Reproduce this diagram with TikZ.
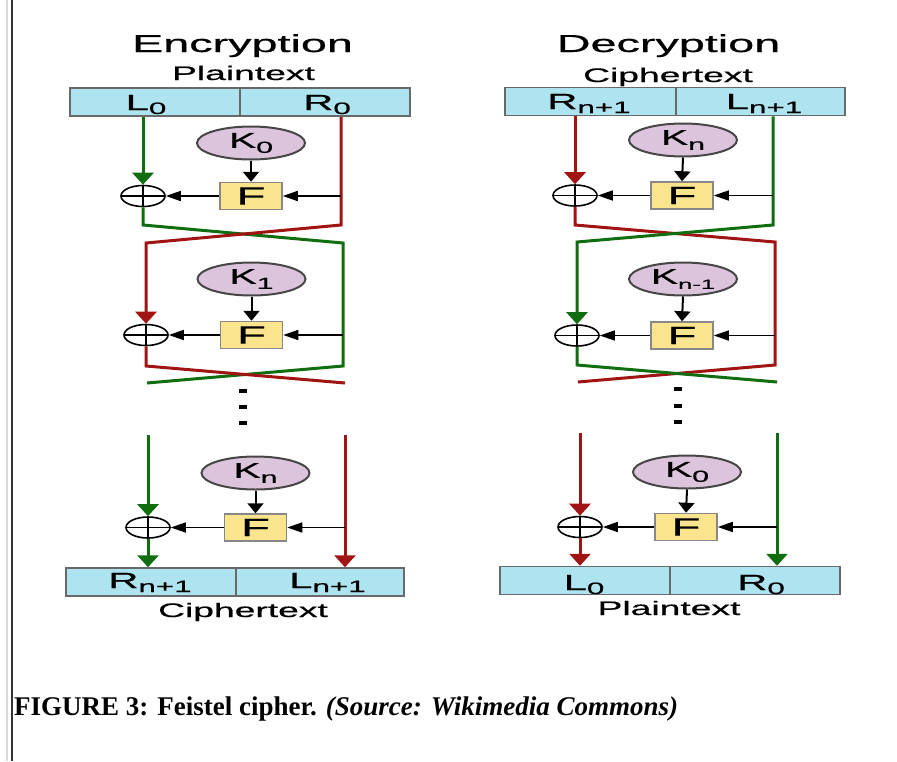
\documentclass[tikz,border=0pt]{standalone}
\usepackage{fontspec}
\setmainfont{Liberation Sans}[FakeBold=0.5]
\newfontfamily\capfont{Liberation Serif}
\usepackage{graphicx}
\usetikzlibrary{shapes.geometric,arrows.meta,calc}
\definecolor{boxfill}{RGB}{174,227,240}
\definecolor{boxborder}{RGB}{105,105,105}
\definecolor{keyfill}{RGB}{221,196,221}
\definecolor{keyborder}{RGB}{70,70,70}
\definecolor{ffill}{RGB}{250,228,142}
\definecolor{fborder}{RGB}{135,135,135}
\definecolor{grn}{RGB}{16,110,16}
\definecolor{rd}{RGB}{160,20,20}
\newcommand\sx[1]{\scalebox{1.9}[1]{#1}}
\newcommand\fs[1]{\fontsize{#1}{#1}\selectfont}
\newcommand\lbl[2]{\sx{\fs{22}#1\raisebox{-4pt}{\fs{16.5}#2}}}
\newcommand\klbl[2]{\sx{\fs{21.5}K\raisebox{-5pt}{\fs{#1}#2}}}
\begin{document}
\begin{tikzpicture}[x=1pt,y=-1pt,
  half/.style={draw=boxborder, fill=boxfill, line width=1.5pt, minimum height=28pt, inner sep=0pt},
  key/.style={ellipse, draw=keyborder, fill=keyfill, line width=2pt, minimum width=108pt, minimum height=33pt, inner sep=0pt},
  fbox/.style={draw=fborder, fill=ffill, line width=1.5pt, minimum width=62pt, minimum height=27pt, inner sep=0pt},
  xor/.style={ellipse, draw=black, line width=1.6pt, minimum width=44pt, minimum height=21pt, inner sep=0pt,
    path picture={\draw[line width=1.6pt] (path picture bounding box.north) -- (path picture bounding box.south)
      (path picture bounding box.west) -- (path picture bounding box.east);}},
  gline/.style={draw=grn, line width=3pt},
  rline/.style={draw=rd, line width=3pt},
  carrow/.style={-{Triangle[width=21pt,length=12pt]}},
  hbarrow/.style={draw=black, line width=1.5pt, -{Triangle[width=10pt,length=15pt]}},
  vbarrow/.style={draw=black, line width=2pt, -{Triangle[width=16pt,length=10pt]}},
  ttl/.style={anchor=base, inner sep=0pt},
  dotbox/.style={fill=black, minimum width=8pt, minimum height=4pt, inner sep=0pt}]
\useasboundingbox (0,0) rectangle (897,761);
% margin lines
\draw[line width=2pt, black!15] (7,0) -- (7,761);
\draw[line width=2pt, black!80] (12,0) -- (12,761);

% ================= ENCRYPTION =================
\node[ttl] (tenc) at (242.5,52) {\sx{\fs{24.6}Encryption}};
\node[ttl] (tencp) at (243.5,80) {\sx{\fs{19.6}Plaintext}};
\node[half, minimum width=170pt] (eTL) at (155,102) {};
\node[half, minimum width=170pt] (eTR) at (325,102) {};
\node[ttl] (eTLt) at (146,110) {\lbl{L}{0}};
\node[ttl] (eTRt) at (327,110) {\lbl{R}{0}};

\node[key] (eK0) at (251,143) {\klbl{16}{0}};
\node[fbox] (eF0) at (251,196) {\sx{\fs{25}F}};
\node[xor] (eX0) at (143,196) {};

\coordinate (er1) at (341,225);
\coordinate (er2) at (146,243);
\coordinate (eg1) at (143,225);
\coordinate (eg2) at (343,243);
\coordinate (eg3) at (343,366);
\coordinate (eg4) at (147,383);
\coordinate (er3) at (146,366);
\coordinate (er4) at (345,383);
\coordinate (eg5) at (148,435);
\coordinate (er5) at (345,435);

\node[key] (eK1) at (251.5,279) {\klbl{16}{1}};
\node[fbox] (eF1) at (251.5,335) {\sx{\fs{25}F}};
\node[xor] (eX1) at (146,335) {};

\node[dotbox] (ed1) at (243,391) {};
\node[dotbox] (ed2) at (243,407) {};
\node[dotbox] (ed3) at (243,423) {};

\node[key] (eK2) at (255.5,473) {\klbl{16}{n}};
\node[fbox] (eF2) at (255.5,527.5) {\sx{\fs{25}F}};
\node[xor] (eX2) at (148,527.5) {};

\node[half, minimum width=170pt] (eBL) at (151,582) {};
\node[half, minimum width=168pt] (eBR) at (320,582) {};
\node[ttl] (eBLt) at (150,588) {\lbl{R}{n+1}};
\node[ttl] (eBRt) at (327.5,588) {\lbl{L}{n+1}};
\node[ttl] (tencc) at (243,617) {\sx{\fs{19.6}Ciphertext}};

% encryption connectors
\draw[gline,carrow] (eTL.south -| eX0) -- (eX0.north);
\draw[gline] (eX0.south) -- (eg1) -- (eg2) -- (eg3) -- (eg4);
\draw[rline,carrow] (eTR.south -| er1) -- (er1) -- (er2) -- (eX1.north);
\draw[rline] (eX1.south) -- (er3) -- (er4);
\draw[hbarrow] (er1 |- eF0) -- (eF0.east);
\draw[hbarrow] (eF0.west) -- (eX0.east);
\draw[vbarrow] (eK0.south) -- (eF0.north);
\draw[hbarrow] (eg3 |- eF1) -- (eF1.east);
\draw[hbarrow] (eF1.west) -- (eX1.east);
\draw[vbarrow] (eK1.south) -- (eF1.north);
\draw[gline,carrow] (eg5) -- (eX2.north);
\draw[gline,carrow] (eX2.south) -- (eX2.south |- eBL.north);
\draw[rline,carrow] (er5) -- (er5 |- eBR.north);
\draw[hbarrow] (er5 |- eF2) -- (eF2.east);
\draw[hbarrow] (eF2.west) -- (eX2.east);
\draw[vbarrow] (eK2.south) -- (eF2.north);

% ================= DECRYPTION =================
\node[ttl] (tdec) at (668.5,52) {\sx{\fs{24.6}Decryption}};
\node[ttl] (tdecc) at (668,82) {\sx{\fs{19.6}Ciphertext}};
\node[half, minimum width=171pt] (dTL) at (590.5,101.5) {};
\node[half, minimum width=169pt] (dTR) at (760.5,101.5) {};
\node[ttl] (dTLt) at (589,109) {\lbl{R}{n+1}};
\node[ttl] (dTRt) at (764,109) {\lbl{L}{n+1}};

\node[key] (dK0) at (683,140) {\klbl{16}{n}};
\node[fbox] (dF0) at (682,195.5) {\sx{\fs{25}F}};
\node[xor] (dX0) at (575,195.5) {};

\coordinate (dr1) at (575,225);
\coordinate (dr2) at (775,242);
\coordinate (dg1) at (773,225);
\coordinate (dg2) at (577,242);
\coordinate (dr3) at (775,365);
\coordinate (dr4) at (578,382);
\coordinate (dg3) at (577,365);
\coordinate (dg4) at (777,382);
\coordinate (dr5) at (580,433);
\coordinate (dg5) at (777,433);

\node[key] (dK1) at (683,279) {\klbl{13.5}{n-1}};
\node[fbox] (dF1) at (682,335.5) {\sx{\fs{25}F}};
\node[xor] (dX1) at (577,335.5) {};

\node[dotbox] (dd1) at (678,389) {};
\node[dotbox] (dd2) at (678,406) {};
\node[dotbox] (dd3) at (678,422) {};

\node[key] (dK2) at (687,472) {\klbl{16}{0}};
\node[fbox] (dF2) at (686,527) {\sx{\fs{25}F}};
\node[xor] (dX2) at (580,527) {};

\node[half, minimum width=170pt] (dBL) at (585,580.5) {};
\node[half, minimum width=170pt] (dBR) at (755,580.5) {};
\node[ttl] (dBLt) at (584,590) {\lbl{L}{0}};
\node[ttl] (dBRt) at (761,590) {\lbl{R}{0}};
\node[ttl] (tdecp) at (669,615) {\sx{\fs{19.6}Plaintext}};

% decryption connectors
\draw[rline,carrow] (dTL.south -| dX0) -- (dX0.north);
\draw[rline] (dX0.south) -- (dr1) -- (dr2) -- (dr3) -- (dr4);
\draw[gline,carrow] (dTR.south -| dg1) -- (dg1) -- (dg2) -- (dX1.north);
\draw[gline] (dX1.south) -- (dg3) -- (dg4);
\draw[hbarrow] (dg1 |- dF0) -- (dF0.east);
\draw[hbarrow] (dF0.west) -- (dX0.east);
\draw[vbarrow] (dK0.south) -- (dF0.north);
\draw[hbarrow] (dr3 |- dF1) -- (dF1.east);
\draw[hbarrow] (dF1.west) -- (dX1.east);
\draw[vbarrow] (dK1.south) -- (dF1.north);
\draw[rline,carrow] (dr5) -- (dX2.north);
\draw[rline,carrow] (dX2.south) -- (dX2.south |- dBL.north);
\draw[gline,carrow] (dg5) -- (dg5 |- dBR.north);
\draw[hbarrow] (dg5 |- dF2) -- (dF2.east);
\draw[hbarrow] (dF2.west) -- (dX2.east);
\draw[vbarrow] (dK2.south) -- (dF2.north);

% caption
\node[anchor=base west, inner sep=0pt] (cap) at (14,715)
  {\capfont\fs{27}\bfseries FIGURE 3: Feistel cipher. \textit{(Source: Wikimedia Commons)}};
\end{tikzpicture}
\end{document}
